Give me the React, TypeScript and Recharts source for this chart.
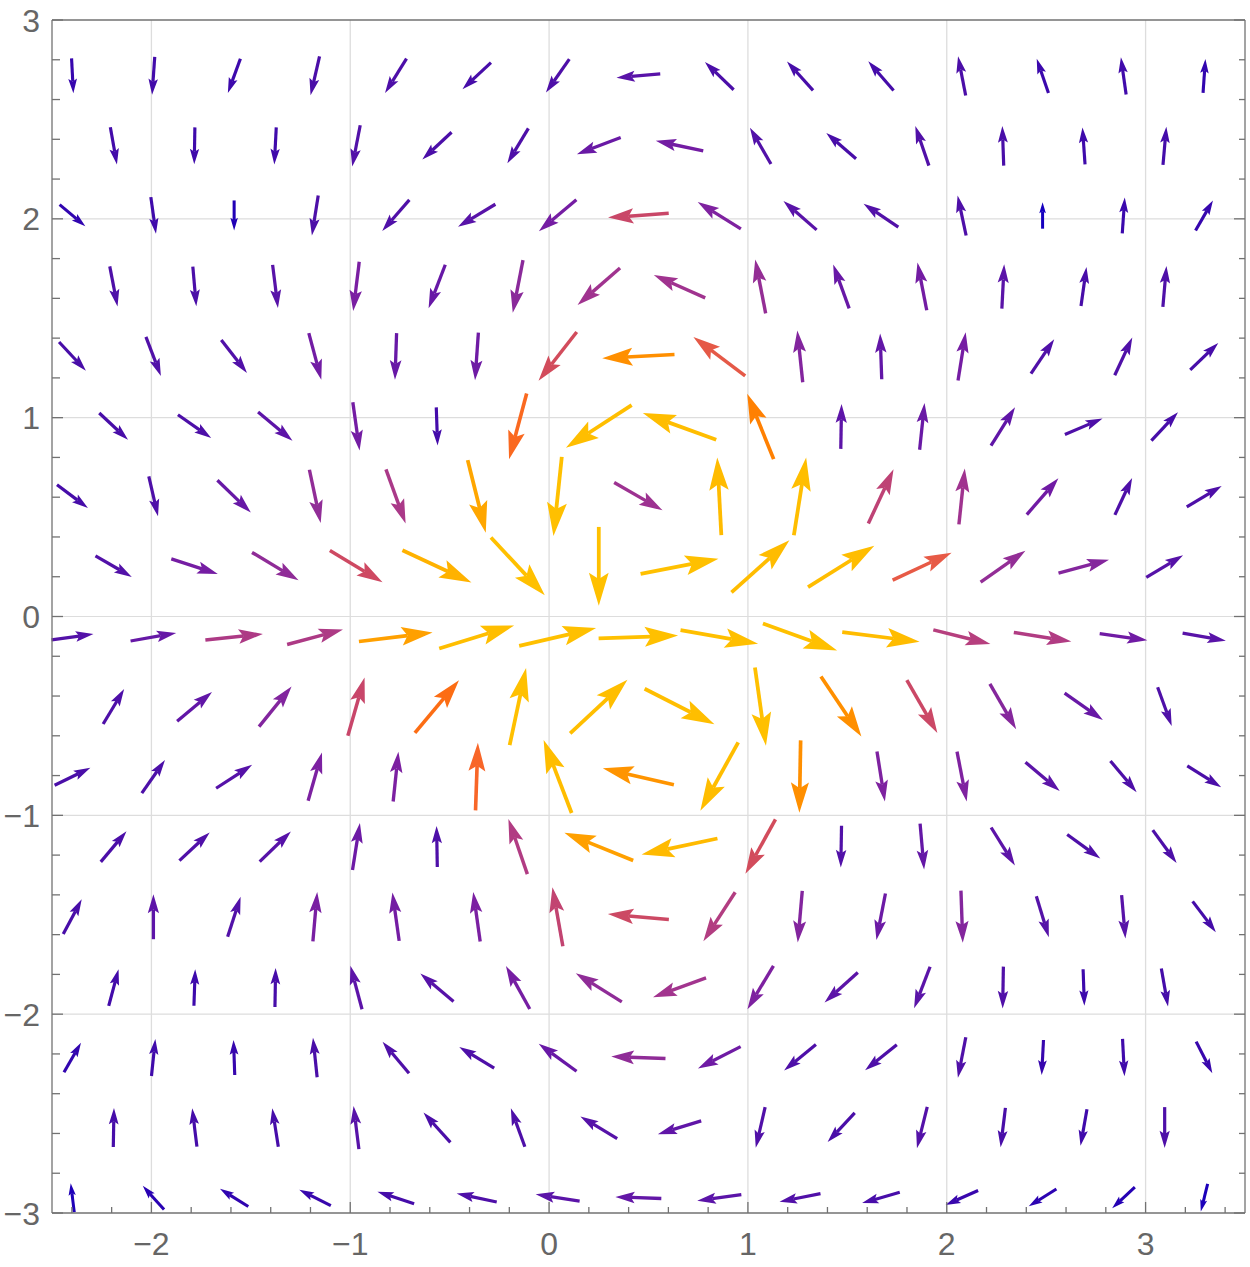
import React from "react";
import { ScatterChart, Scatter, XAxis, YAxis, ReferenceLine } from "recharts";

// sample rows of the (hexagonal) vector grid, top to bottom
const ROW_Y = [2.719, 2.367, 2.017, 1.66, 1.308, 0.956, 0.604, 0.252, -0.103, -0.453, -0.805, -1.157, -1.51, -1.866, -2.218, -2.57, -2.923];
// even rows use X_WIDE, odd rows X_NARROW
const X_WIDE = [-2.397, -1.99, -1.584, -1.177, -0.771, -0.364, 0.043, 0.449, 0.856, 1.262, 1.669, 2.076, 2.482, 2.889, 3.295];
const X_NARROW = [-2.19, -1.783, -1.377, -0.97, -0.564, -0.157, 0.25, 0.656, 1.063, 1.469, 1.876, 2.283, 2.689, 3.096];

// each arrow: [direction in degrees, drawn length in plot units]
const ROW_A = [[-87, 0.176], [-94, 0.191], [-110, 0.184], [-103, 0.201], [-122, 0.204], [-137, 0.196], [-125, 0.205], [-175, 0.221], [136, 0.201], [132, 0.196], [131, 0.194], [101, 0.201], [109, 0.181], [98, 0.189], [86, 0.171]];
const ROW_B = [[-80, 0.191], [-91, 0.186], [-93, 0.187], [-101, 0.211], [-137, 0.201], [-121, 0.205], [-159, 0.236], [168, 0.244], [120, 0.211], [139, 0.198], [109, 0.21], [92, 0.199], [94, 0.186], [85, 0.193]];
const ROW_C = [[-40, 0.169], [-82, 0.186], [-90, 0.151], [-99, 0.204], [-131, 0.208], [-149, 0.219], [-140, 0.246], [-176, 0.306], [148, 0.256], [139, 0.221], [146, 0.211], [102, 0.206], [90, 0.133], [86, 0.181], [60, 0.175]];
const ROW_D = [[-79, 0.205], [-85, 0.201], [-83, 0.219], [-97, 0.25], [-111, 0.234], [-101, 0.27], [-139, 0.283], [156, 0.283], [101, 0.276], [110, 0.235], [101, 0.244], [87, 0.223], [82, 0.198], [85, 0.207]];
const ROW_E = [[-47, 0.198], [-69, 0.21], [-52, 0.21], [-75, 0.243], [-92, 0.235], [-94, 0.241], [-128, 0.312], [-177, 0.364], [143, 0.326], [96, 0.261], [92, 0.23], [81, 0.246], [56, 0.209], [65, 0.209], [44, 0.196]];
const ROW_F = [[-43, 0.198], [-35, 0.204], [-40, 0.226], [-82, 0.245], [-88, 0.192], [-105, 0.342], [-147, 0.394], [160, 0.393], [112, 0.355], [89, 0.226], [84, 0.236], [58, 0.228], [23, 0.206], [47, 0.196]];
const ROW_G = [[-37, 0.195], [-77, 0.206], [-44, 0.234], [-78, 0.274], [-70, 0.289], [-76, 0.376], [-96, 0.4], [-30, 0.281], [93, 0.391], [81, 0.395], [65, 0.3], [84, 0.283], [49, 0.242], [65, 0.205], [31, 0.205]];
const ROW_H = [[-30, 0.211], [-18, 0.246], [-31, 0.273], [-31, 0.309], [-25, 0.383], [-47, 0.397], [-90, 0.397], [11, 0.399], [42, 0.392], [32, 0.393], [25, 0.327], [35, 0.275], [15, 0.263], [31, 0.216]];
const ROW_I = [[8, 0.213], [10, 0.233], [6, 0.291], [15, 0.291], [7, 0.373], [17, 0.394], [13, 0.397], [2, 0.4], [-10, 0.396], [-20, 0.397], [-7, 0.392], [-14, 0.296], [-9, 0.293], [-8, 0.242], [-10, 0.221]];
const ROW_J = [[59, 0.205], [40, 0.229], [51, 0.26], [74, 0.305], [50, 0.345], [78, 0.397], [43, 0.394], [-27, 0.394], [-82, 0.397], [-56, 0.364], [-60, 0.307], [-60, 0.264], [-35, 0.235], [-70, 0.207]];
const ROW_K = [[26, 0.2], [55, 0.203], [33, 0.216], [74, 0.253], [84, 0.252], [88, 0.34], [111, 0.393], [167, 0.367], [-119, 0.393], [-91, 0.364], [-81, 0.255], [-79, 0.256], [-40, 0.225], [-50, 0.205], [-32, 0.201]];
const ROW_L = [[50, 0.201], [43, 0.208], [44, 0.218], [81, 0.239], [91, 0.206], [109, 0.293], [158, 0.373], [-168, 0.39], [-119, 0.312], [-91, 0.21], [-85, 0.232], [-58, 0.226], [-36, 0.206], [-54, 0.204]];
const ROW_M = [[62, 0.198], [90, 0.226], [72, 0.211], [85, 0.249], [98, 0.245], [98, 0.251], [100, 0.302], [175, 0.308], [-123, 0.294], [-95, 0.261], [-101, 0.238], [-88, 0.263], [-73, 0.215], [-85, 0.219], [-53, 0.194]];
const ROW_N = [[75, 0.191], [88, 0.184], [89, 0.196], [105, 0.226], [140, 0.218], [119, 0.247], [148, 0.273], [-160, 0.284], [-121, 0.254], [-138, 0.225], [-111, 0.224], [-91, 0.21], [-88, 0.184], [-80, 0.194]];
const ROW_O = [[60, 0.171], [84, 0.187], [92, 0.176], [96, 0.2], [130, 0.207], [149, 0.205], [144, 0.235], [178, 0.273], [-153, 0.241], [-141, 0.206], [-141, 0.205], [-101, 0.208], [-93, 0.176], [-87, 0.188], [-63, 0.179]];
const ROW_P = [[89, 0.196], [97, 0.194], [99, 0.195], [97, 0.219], [132, 0.202], [110, 0.206], [149, 0.216], [-163, 0.228], [-103, 0.21], [-133, 0.2], [-104, 0.214], [-97, 0.199], [-100, 0.187], [-90, 0.205]];
const ROW_Q = [[97, 0.146], [132, 0.16], [148, 0.168], [153, 0.178], [162, 0.194], [168, 0.206], [171, 0.224], [178, 0.231], [-172, 0.224], [-169, 0.21], [-164, 0.197], [-156, 0.179], [-148, 0.164], [-137, 0.156], [-104, 0.143]];

const ROWS = [ROW_A, ROW_B, ROW_C, ROW_D, ROW_E, ROW_F, ROW_G, ROW_H, ROW_I, ROW_J, ROW_K, ROW_L, ROW_M, ROW_N, ROW_O, ROW_P, ROW_Q];

const X_TICKS = [-2.4, -2.2, -2, -1.8, -1.6, -1.4, -1.2, -1, -0.8, -0.6, -0.4, -0.2, 0, 0.2, 0.4, 0.6, 0.8, 1, 1.2, 1.4, 1.6, 1.8, 2, 2.2, 2.4, 2.6, 2.8, 3, 3.2, 3.4];
const Y_TICKS = [-3, -2.8, -2.6, -2.4, -2.2, -2, -1.8, -1.6, -1.4, -1.2, -1, -0.8, -0.6, -0.4, -0.2, 0, 0.2, 0.4, 0.6, 0.8, 1, 1.2, 1.4, 1.6, 1.8, 2, 2.2, 2.4, 2.6, 2.8, 3];
const X_GRID = [-2, -1, 0, 1, 2, 3];
const Y_GRID = [-2, -1, 0, 1, 2];

// arrow length -> colour (longer = warmer)
const COLOR_STOPS: [number, string][] = [
  [0.13, "#1400c0"], [0.15, "#2000b6"], [0.175, "#3606ae"], [0.2, "#4a0ea8"],
  [0.225, "#5c14a8"], [0.25, "#7a1fa2"], [0.27, "#8a2a9a"], [0.284, "#a2348e"],
  [0.295, "#b43e80"], [0.305, "#c8466a"], [0.318, "#da5150"], [0.328, "#e85b45"],
  [0.34, "#f86628"], [0.348, "#ff7208"], [0.357, "#ff8400"], [0.367, "#ff9400"],
  [0.377, "#ffa800"], [0.387, "#ffb800"], [0.397, "#ffc000"],
];

const FRAME = "#727272";
const GRID = "#dddddd";
const LABEL = "#666666";

function hexToRgb(h: string) {
  const n = parseInt(h.slice(1), 16);
  return [(n >> 16) & 255, (n >> 8) & 255, n & 255];
}

function colorFor(len: number) {
  if (len <= COLOR_STOPS[0][0]) return COLOR_STOPS[0][1];
  for (let i = 1; i < COLOR_STOPS.length; i++) {
    const [l1, c1] = COLOR_STOPS[i];
    if (len <= l1) {
      const [l0, c0] = COLOR_STOPS[i - 1];
      const t = (len - l0) / (l1 - l0);
      const a = hexToRgb(c0);
      const b = hexToRgb(c1);
      const m = a.map((v, k) => Math.round(v + (b[k] - v) * t));
      return `rgb(${m[0]},${m[1]},${m[2]})`;
    }
  }
  return COLOR_STOPS[COLOR_STOPS.length - 1][1];
}

const arrows = ROWS.flatMap((row, r) => {
  const xs = r % 2 === 0 ? X_WIDE : X_NARROW;
  return row.map(([deg, len], i) => {
    const a = (deg * Math.PI) / 180;
    const hx = (len / 2) * Math.cos(a);
    const hy = (len / 2) * Math.sin(a);
    const x = xs[i];
    const y = ROW_Y[r];
    return {
      key: `${r}-${i}`,
      x,
      y,
      tail: { x: x - hx, y: y - hy },
      tip: { x: x + hx, y: y + hy },
      color: colorFor(len),
    };
  });
});

const centers = arrows.map((a) => ({ x: a.x, y: a.y }));

function arrowShape(color: string) {
  return (p: any) => {
    const { x1, y1, x2, y2 } = p;
    const dx = x2 - x1;
    const dy = y2 - y1;
    const L = Math.hypot(dx, dy);
    if (!L) return <g />;
    const ux = dx / L;
    const uy = dy / L;
    const hl = 0.42 * L;
    const hw = 0.125 * L;
    const notch = 0.34 * L;
    const bx = x2 - ux * hl;
    const by = y2 - uy * hl;
    const nx = x2 - ux * notch;
    const ny = y2 - uy * notch;
    const px = -uy * hw;
    const py = ux * hw;
    return (
      <g>
        <line x1={x1} y1={y1} x2={nx} y2={ny} stroke={color} strokeWidth={2.6 + 0.015 * L} />
        <path d={`M${x2},${y2}L${bx + px},${by + py}L${nx},${ny}L${bx - px},${by - py}Z`} fill={color} />
      </g>
    );
  };
}

const isMajor = (v: number) => Math.abs(v - Math.round(v)) < 1e-6;
const fmt = (v: number) => (v < 0 ? `\u2212${Math.abs(Math.round(v))}` : `${Math.round(v)}`);
const labelFont = { fontFamily: "'Liberation Sans', Arial, sans-serif", fontSize: 32, fill: LABEL };

const BottomTick = (p: any) => {
  const v = p.payload.value;
  const major = isMajor(v);
  return (
    <g>
      <line x1={p.x} x2={p.x} y1={p.y} y2={p.y - (major ? 11 : 6)} stroke={FRAME} strokeWidth={1.3} />
      {major && (
        <text x={p.x} y={p.y + 42} textAnchor="middle" style={labelFont}>
          {fmt(v)}
        </text>
      )}
    </g>
  );
};

const TopTick = (p: any) => {
  const major = isMajor(p.payload.value);
  return <line x1={p.x} x2={p.x} y1={p.y} y2={p.y + (major ? 11 : 6)} stroke={FRAME} strokeWidth={1.3} />;
};

const LeftTick = (p: any) => {
  const v = p.payload.value;
  const major = isMajor(v);
  return (
    <g>
      <line x1={p.x} x2={p.x + (major ? 11 : 8)} y1={p.y} y2={p.y} stroke={FRAME} strokeWidth={1.3} />
      {major && (
        <text x={p.x - 12} y={p.y + 11.5} textAnchor="end" style={labelFont}>
          {fmt(v)}
        </text>
      )}
    </g>
  );
};

const RightTick = (p: any) => {
  const major = isMajor(p.payload.value);
  return <line x1={p.x} x2={p.x - (major ? 11 : 6)} y1={p.y} y2={p.y} stroke={FRAME} strokeWidth={1.3} />;
};

export default function App() {
  const axisLine = { stroke: FRAME, strokeWidth: 1.3 };
  return (
    <div style={{ position: "absolute", left: 0, top: 0, width: 1250, height: 1262, overflow: "hidden", background: "#fff" }}>
      <ScatterChart width={1250} height={1262} margin={{ top: 0, right: 0, bottom: 0, left: 0 }}>
        <XAxis
          type="number"
          dataKey="x"
          domain={[-2.5, 3.5]}
          allowDataOverflow
          ticks={X_TICKS}
          interval={0}
          height={49}
          tickSize={0}
          tickMargin={0}
          tickLine={false}
          axisLine={axisLine}
          tick={(p: any) => <BottomTick {...p} />}
        />
        <XAxis
          xAxisId="top"
          orientation="top"
          type="number"
          domain={[-2.5, 3.5]}
          allowDataOverflow
          ticks={X_TICKS}
          interval={0}
          height={20}
          tickSize={0}
          tickMargin={0}
          tickLine={false}
          axisLine={axisLine}
          tick={(p: any) => <TopTick {...p} />}
        />
        <YAxis
          type="number"
          dataKey="y"
          domain={[-3, 3]}
          allowDataOverflow
          ticks={Y_TICKS}
          interval={0}
          width={52}
          tickSize={0}
          tickMargin={0}
          tickLine={false}
          axisLine={axisLine}
          tick={(p: any) => <LeftTick {...p} />}
        />
        <YAxis
          yAxisId="right"
          orientation="right"
          type="number"
          domain={[-3, 3]}
          allowDataOverflow
          ticks={Y_TICKS}
          interval={0}
          width={5}
          tickSize={0}
          tickMargin={0}
          tickLine={false}
          axisLine={axisLine}
          tick={(p: any) => <RightTick {...p} />}
        />
        {X_GRID.map((v) => (
          <ReferenceLine key={`gx${v}`} x={v} stroke={GRID} strokeWidth={1.3} />
        ))}
        {Y_GRID.map((v) => (
          <ReferenceLine key={`gy${v}`} y={v} stroke={GRID} strokeWidth={1.2} />
        ))}
        {arrows.map((a) => (
          <ReferenceLine
            key={a.key}
            segment={[a.tail, a.tip]}
            ifOverflow="visible"
            stroke={a.color}
            shape={arrowShape(a.color)}
          />
        ))}
        <Scatter data={centers} isAnimationActive={false} shape={() => <g />} />
      </ScatterChart>
    </div>
  );
}
